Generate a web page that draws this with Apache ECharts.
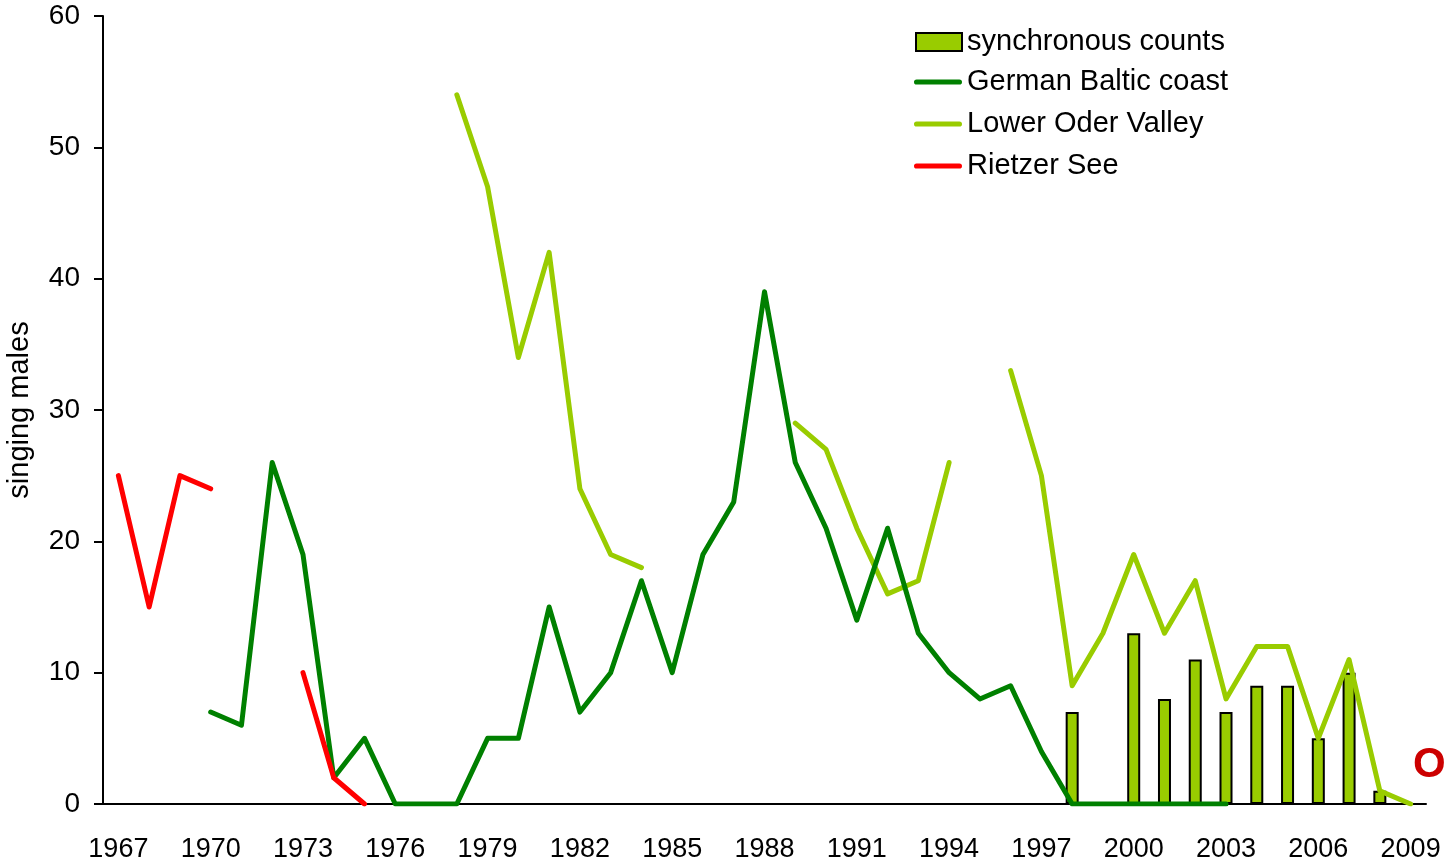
<!DOCTYPE html>
<html>
<head>
<meta charset="utf-8">
<script src="https://cdn.jsdelivr.net/npm/echarts@6/dist/echarts.min.js"></script>
<style>
  html, body { margin: 0; padding: 0; background: #fff; }
  #main { width: 1449px; height: 865px; }
</style>
</head>
<body>
<div id="main"></div>
<script>
// years 1967 - 2009
var years = [];
for (var y = 1967; y <= 2009; y++) years.push(String(y));

// synchronous counts (bars), 1998-2008
var syncCounts = {1998: 7, 2000: 13, 2001: 8, 2002: 11, 2003: 7, 2004: 9, 2005: 9, 2006: 5, 2007: 10, 2008: 1};
// German Baltic coast 1970-2003
var balticStart = 1970;
var baltic = [7, 6, 26, 19, 2, 5, 0, 0, 0, 5, 5, 15, 7, 10, 17, 10, 19, 23, 39, 26, 21, 14, 21, 13, 10, 8, 9, 4, 0, 0, 0, 0, 0, 0];
// Lower Oder Valley 1978-2009 (null = no data)
var oderStart = 1978;
var oder = [54, 47, 34, 42, 24, 19, 18, null, null, null, null, 29, 27, 21, 16, 17, 26, null, 33, 25, 9, 13, 19, 13, 17, 8, 12, 12, 5, 11, 1, 0];
// Rietzer See 1967-1975
var rietzerStart = 1967;
var rietzer = [25, 15, 25, 24, null, null, 10, 2, 0];

function spread(start, vals) {
    var out = years.map(function () { return null; });
    vals.forEach(function (v, i) { out[start - 1967 + i] = v; });
    return out;
}
var barData = years.map(function (yr) { return syncCounts[yr] !== undefined ? syncCounts[yr] : null; });

var txt = '#000';
var font = '"Liberation Sans", Arial, sans-serif';
var lineIcon = 'path://M2.5,0h41a2.5,2.5 0 0 1 0,5h-41a2.5,2.5 0 0 1 0,-5z';

function lineSeries(name, data, color, z) {
    return {
        name: name,
        type: 'line',
        data: data,
        symbol: 'none',
        lineStyle: { color: color, width: 5, cap: 'round', join: 'round' },
        itemStyle: { color: color },
        z: z
    };
}

var option = {
    animation: false,
    backgroundColor: '#fff',
    textStyle: { fontFamily: font },
    grid: { left: 103, right: 23, top: 16, bottom: 61, outerBoundsMode: 'none', containLabel: false },
    legend: [
        {
            orient: 'vertical',
            left: 910,
            top: 22,
            itemWidth: 46,
            itemHeight: 18,
            icon: 'rect',
            itemStyle: { borderColor: '#000', borderWidth: 2 },
            textStyle: { fontSize: 29, lineHeight: 30, color: txt, fontFamily: font },
            data: ['synchronous counts']
        },
        {
            orient: 'vertical',
            left: 909,
            top: 62,
            itemWidth: 48,
            itemHeight: 18,
            itemGap: 12,
            textStyle: { fontSize: 29, lineHeight: 30, color: txt, fontFamily: font },
            data: [
                { name: 'German Baltic coast', icon: lineIcon },
                { name: 'Lower Oder Valley', icon: lineIcon },
                { name: 'Rietzer See', icon: lineIcon }
            ]
        }
    ],
    xAxis: {
        type: 'category',
        data: years,
        boundaryGap: true,
        axisLine: { lineStyle: { color: '#000', width: 2 } },
        axisTick: { interval: 0, length: 9, lineStyle: { color: '#000', width: 2 } },
        axisLabel: { interval: 2, color: txt, fontSize: 27, margin: 32, fontFamily: font }
    },
    yAxis: {
        type: 'value',
        min: 0,
        max: 60,
        interval: 10,
        name: 'singing males',
        nameLocation: 'middle',
        nameGap: 69,
        nameTextStyle: { fontSize: 29, color: txt, fontFamily: font },
        splitLine: { show: false },
        axisLine: { show: true, lineStyle: { color: '#000', width: 2 } },
        axisTick: { show: true, length: 9, lineStyle: { color: '#000', width: 2 } },
        axisLabel: { color: txt, fontSize: 28, margin: 23, fontFamily: font }
    },
    series: [
        {
            name: 'synchronous counts',
            type: 'bar',
            data: barData,
            barWidth: 13,
            itemStyle: { color: '#99CC00', borderColor: '#000', borderWidth: 2 },
            z: 1
        },
        lineSeries('German Baltic coast', spread(balticStart, baltic), '#008000', 3),
        lineSeries('Lower Oder Valley', spread(oderStart, oder), '#99CC00', 2),
        lineSeries('Rietzer See', spread(rietzerStart, rietzer), '#FF0000', 4)
    ],
    graphic: [
        {
            type: 'text',
            left: 1413,
            top: 744,
            style: { text: 'O', fill: '#CC0000', font: 'bold 42px ' + font }
        }
    ]
};

echarts.init(document.getElementById('main')).setOption(option);
</script>
</body>
</html>
